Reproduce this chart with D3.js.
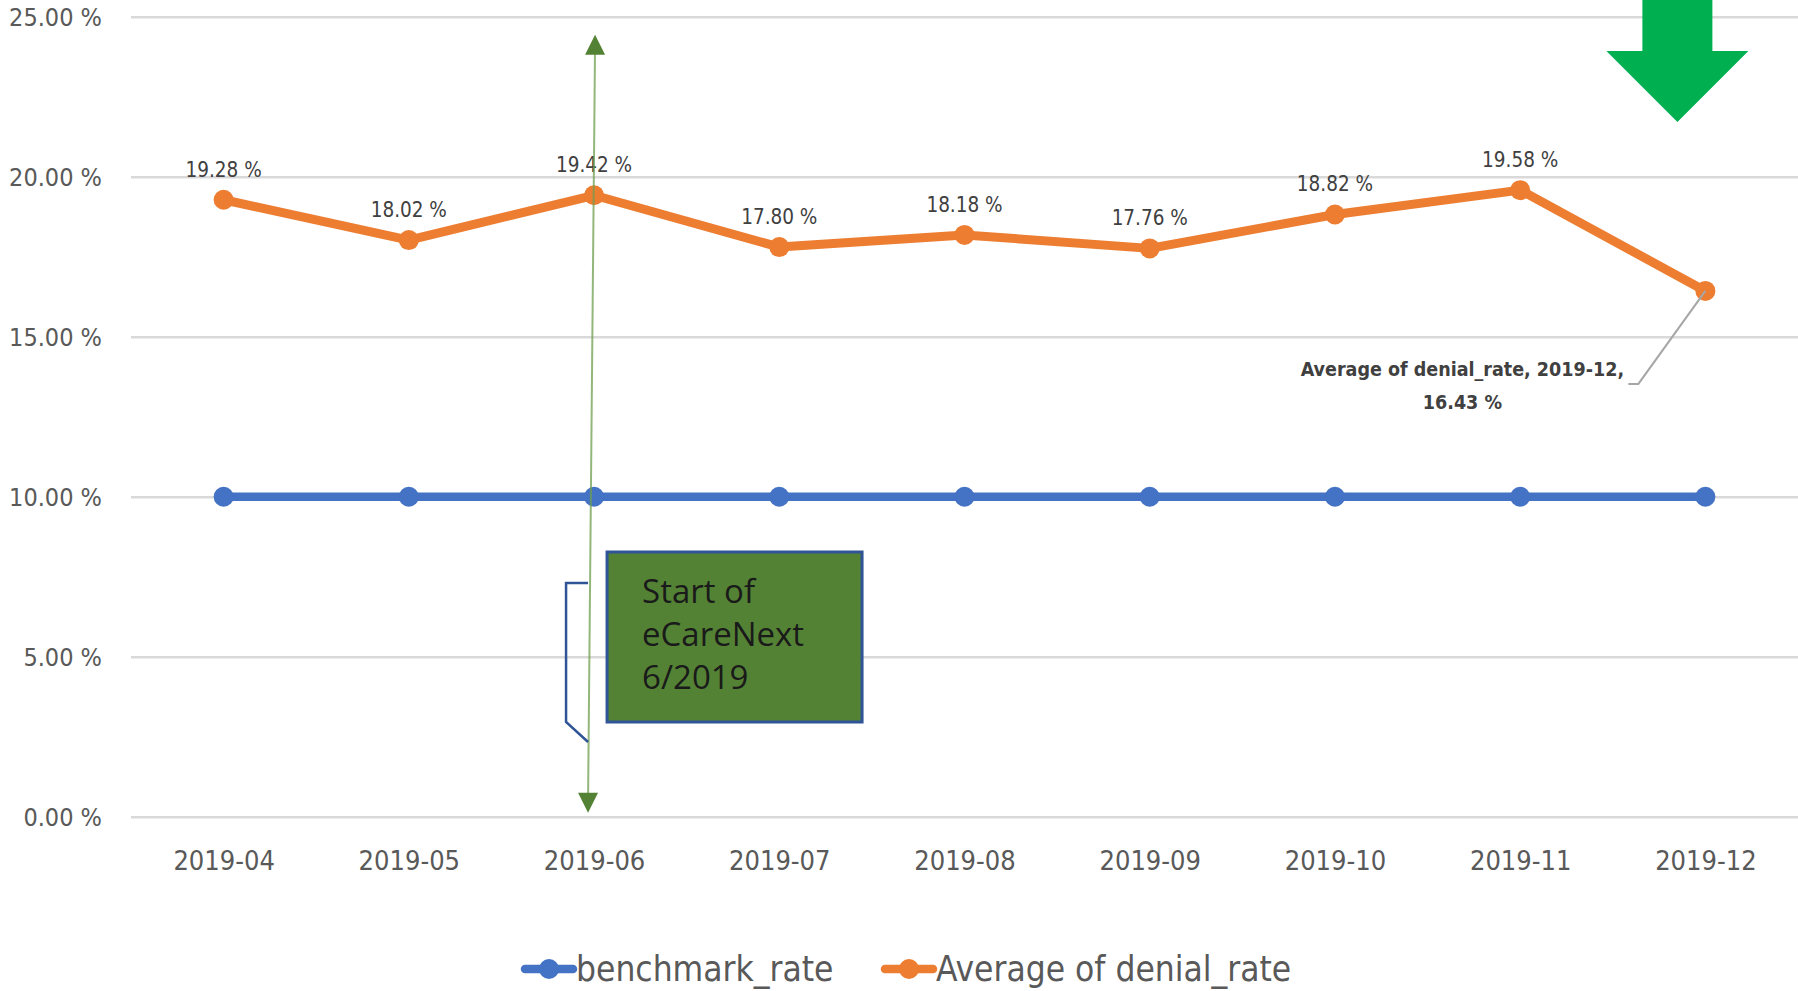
<!DOCTYPE html>
<html>
<head>
<meta charset="utf-8">
<script src="https://cdn.jsdelivr.net/npm/d3@7"></script>
<style>
  html, body { margin: 0; padding: 0; background: #fff; }
  svg { display: block; }
  text { font-family: "Liberation Sans Narrow", "DejaVu Sans Condensed", "Roboto Condensed", "Arial Narrow", sans-serif; }
</style>
</head>
<body>
<svg id="chart" width="1798" height="991"></svg>
<script>
// Monthly categories and series
const months = ["2019-04", "2019-05", "2019-06", "2019-07", "2019-08", "2019-09", "2019-10", "2019-11", "2019-12"];
const benchmarkRate = [0.10, 0.10, 0.10, 0.10, 0.10, 0.10, 0.10, 0.10, 0.10];
const denialRate = [0.1928, 0.1802, 0.1942, 0.1780, 0.1818, 0.1776, 0.1882, 0.1958, 0.1643];
const yTicks = [0, 0.05, 0.10, 0.15, 0.20, 0.25];
const seriesNames = ["benchmark_rate", "Average of denial_rate"];
const seriesColors = ["#4472C4", "#ED7D31"];
const startMonth = "2019-06";
const boxLines = ["Start of", "eCareNext", "6/2019"];

const W = 1798, H = 991;
const plot = { left: 131, right: 1798, top: 16.7, bottom: 816.7 };

const svg = d3.select("#chart");

const x = d3.scalePoint().domain(months).range([plot.left, plot.right]).padding(0.5);
const y = d3.scaleLinear().domain([0, 0.25]).range([plot.bottom, plot.top]);

const pct = v => d3.format(".2f")(v * 100) + " %";

// Value axis with full-width gridlines
const yAxis = svg.append("g")
  .attr("transform", `translate(${plot.left},0)`)
  .call(d3.axisLeft(y).tickValues(yTicks).tickFormat(pct)
    .tickSize(-(plot.right - plot.left)).tickPadding(29));
yAxis.select(".domain").remove();
yAxis.selectAll(".tick line").attr("stroke", "#d9d9d9").attr("stroke-width", 2.5);
yAxis.selectAll(".tick text").attr("fill", "#595959").attr("font-size", 25)
  .attr("dy", "0.34em");

// Category axis labels
const xAxis = svg.append("g")
  .attr("transform", `translate(0,${plot.bottom})`)
  .call(d3.axisBottom(x).tickSize(0).tickPadding(34));
xAxis.select(".domain").remove();
xAxis.selectAll(".tick text").attr("fill", "#595959").attr("font-size", 27);

const line = d3.line().x((d, i) => x(months[i])).y(d => y(d));

// Benchmark series
svg.append("path").datum(benchmarkRate)
  .attr("d", line).attr("fill", "none")
  .attr("stroke", seriesColors[0]).attr("stroke-width", 8.5).attr("stroke-linejoin", "round");
svg.append("g").selectAll("circle").data(benchmarkRate).join("circle")
  .attr("cx", (d, i) => x(months[i])).attr("cy", d => y(d)).attr("r", 10)
  .attr("fill", seriesColors[0]);

// Denial rate series
svg.append("path").datum(denialRate)
  .attr("d", line).attr("fill", "none")
  .attr("stroke", seriesColors[1]).attr("stroke-width", 9).attr("stroke-linejoin", "round");
svg.append("g").selectAll("circle").data(denialRate).join("circle")
  .attr("cx", (d, i) => x(months[i])).attr("cy", d => y(d)).attr("r", 10)
  .attr("fill", seriesColors[1]);

// Data labels (all but the last month, which has a callout)
svg.append("g").selectAll("text").data(denialRate.slice(0, -1)).join("text")
  .attr("x", (d, i) => x(months[i]))
  .attr("y", d => y(d) - 23)
  .attr("text-anchor", "middle")
  .attr("fill", "#404040").attr("font-size", 20.5)
  .text(pct);

// Callout label for the last month
const lastI = months.length - 1;
const lx = x(months[lastI]), ly = y(denialRate[lastI]);
svg.append("polyline")
  .attr("points", `${lx},${ly} ${lx - 67},${ly + 93} ${lx - 77},${ly + 93}`)
  .attr("fill", "none").attr("stroke", "#a6a6a6").attr("stroke-width", 2);
const callout = svg.append("text")
  .attr("text-anchor", "middle").attr("fill", "#404040")
  .attr("font-size", 19.5).attr("font-weight", "bold");
callout.append("tspan").attr("x", lx - 243).attr("y", ly + 85)
  .text(`Average of denial_rate, ${months[lastI]},`);
callout.append("tspan").attr("x", lx - 243).attr("y", ly + 118)
  .text(pct(denialRate[lastI]));

// Big green down arrow near the last month
const ax = x(months[lastI]) - 28;
svg.append("path")
  .attr("d", `M${ax - 35},0 L${ax + 35},0 L${ax + 35},51 L${ax + 71},51 L${ax},122 L${ax - 71},51 L${ax - 35},51 Z`)
  .attr("fill", "#00B050");

// Vertical double-headed marker at the start month
const sx = x(startMonth);
const topY = y(0.25) + 18, botY = plot.bottom - 4;
svg.append("line")
  .attr("x1", sx + 1).attr("y1", topY + 10).attr("x2", sx - 6).attr("y2", botY - 12)
  .attr("stroke", "#6f9f4f").attr("stroke-opacity", 0.75).attr("stroke-width", 2);
svg.append("path")
  .attr("d", `M${sx + 1},${topY} L${sx + 11},${topY + 20} L${sx - 9},${topY + 20} Z`)
  .attr("fill", "#548235");
svg.append("path")
  .attr("d", `M${sx - 6},${botY} L${sx + 4},${botY - 20} L${sx - 16},${botY - 20} Z`)
  .attr("fill", "#548235");

// Callout box with bracket pointer
const bx = sx + 13, by = 552, bw = 255, bh = 170;
svg.append("polyline")
  .attr("points", `${sx - 6},583 ${sx - 28},583 ${sx - 28},722 ${sx - 6},742`)
  .attr("fill", "none").attr("stroke", "#2F5597").attr("stroke-width", 2.5);
svg.append("rect")
  .attr("x", bx).attr("y", by).attr("width", bw).attr("height", bh)
  .attr("fill", "#548235").attr("stroke", "#2F5597").attr("stroke-width", 3);
svg.append("g").selectAll("text").data(boxLines).join("text")
  .attr("x", bx + 35).attr("y", (d, i) => 603 + i * 43)
  .attr("fill", "#1a1a1a").attr("font-size", 33)
  .style("font-family", "'Open Sans', sans-serif")
  .text(d => d);

// Legend
const legend = svg.append("g");
const legendX = [525, 885];
seriesNames.forEach((name, i) => {
  const g = legend.append("g").attr("transform", `translate(${legendX[i]},969)`);
  g.append("line").attr("x1", 0).attr("x2", 48).attr("y1", 0).attr("y2", 0)
    .attr("stroke", seriesColors[i]).attr("stroke-width", 8.5).attr("stroke-linecap", "round");
  g.append("circle").attr("cx", 24).attr("cy", 0).attr("r", 10).attr("fill", seriesColors[i]);
  g.append("text").attr("x", 51).attr("y", 0).attr("dy", "0.35em")
    .attr("fill", "#595959").attr("font-size", 35).text(name);
});
</script>
</body>
</html>
